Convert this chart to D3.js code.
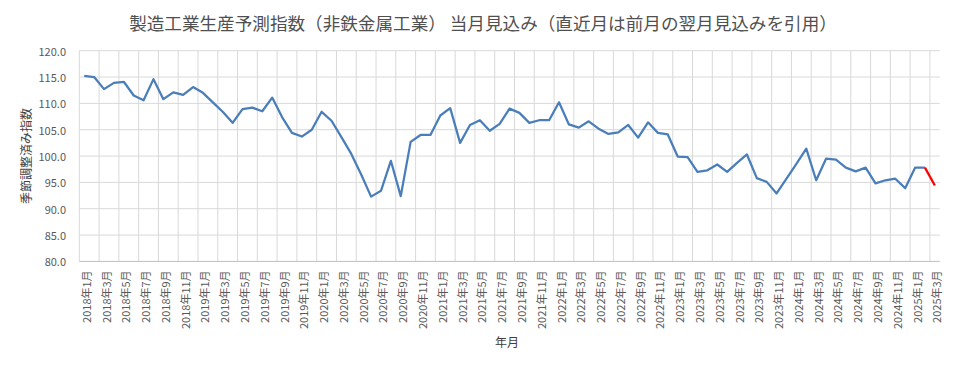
<!DOCTYPE html>
<html><head><meta charset="utf-8">
<script src="https://cdn.jsdelivr.net/npm/d3@7"></script>
<style>
html,body{margin:0;padding:0;background:#fff;}
svg{display:block;}
text{font-family:"Noto Sans CJK JP","Noto Sans",sans-serif;}
</style></head>
<body>
<svg id="chart" width="954" height="368"></svg>
<script>
const title = "製造工業生産予測指数（非鉄金属工業） 当月見込み（直近月は前月の翌月見込みを引用）";
const yTitle = "季節調整済み指数";
const xTitle = "年月";
const years = [2018,2019,2020,2021,2022,2023,2024,2025];
const monthsPerYear = [12,12,12,12,12,12,12,3];
const yTicks = [80,85,90,95,100,105,110,115,120];
const values = [
 115.2,115.0,112.7,113.9,114.1,111.5,110.6,114.6,110.8,112.1,111.6,113.1,
 112.0,110.2,108.4,106.3,108.9,109.2,108.5,111.1,107.4,104.4,103.7,105.0,
 108.4,106.7,103.6,100.4,96.5,92.3,93.4,99.1,92.4,102.7,104.0,104.0,
 107.7,109.1,102.5,105.9,106.8,104.8,106.1,109.0,108.2,106.3,106.8,106.8,
 110.2,106.0,105.4,106.6,105.2,104.2,104.5,105.9,103.5,106.4,104.4,104.1,
 99.9,99.8,97.0,97.3,98.4,97.0,98.7,100.3,95.8,95.1,92.9,95.7,
 98.5,101.4,95.4,99.5,99.3,97.8,97.1,97.8,94.8,95.4,95.7,93.9,
 97.8,97.8,94.4
];
const categories = [];
years.forEach((y,i)=>{ for(let m=1;m<=monthsPerYear[i];m++) categories.push(y+"年"+m+"月"); });
const tickLabels = categories.filter((d,i)=>i%2===0);

const svg = d3.select("#chart");
const L=79.3, R=939.8, T=50.7, B=261.4;
const x = d3.scaleBand().domain(categories).range([L,R]).padding(0);
const y = d3.scaleLinear().domain([80,120]).range([B,T]);
const grid = "#d9d9d9";

svg.append("g").selectAll("line").data(yTicks.filter(v=>v>80)).join("line")
  .attr("x1",L).attr("x2",R).attr("y1",d=>y(d)).attr("y2",d=>y(d))
  .attr("stroke",grid).attr("stroke-width",1);
const bounds = d3.range(0,categories.length,2);
svg.append("g").selectAll("line").data(bounds).join("line")
  .attr("x1",d=>L+d*x.step()).attr("x2",d=>L+d*x.step())
  .attr("y1",T).attr("y2",B).attr("stroke",grid).attr("stroke-width",1);
svg.append("line").attr("x1",L).attr("x2",R).attr("y1",B).attr("y2",B)
  .attr("stroke","#bfbfbf").attr("stroke-width",1);

svg.append("g").selectAll("text").data(yTicks).join("text")
  .attr("x",66).attr("y",d=>y(d)).attr("text-anchor","end")
  .attr("dominant-baseline","central").attr("font-size",11).attr("fill","#595959")
  .text(d=>d.toFixed(1));

svg.append("g").selectAll("text").data(tickLabels).join("text")
  .attr("transform",d=>`translate(${x(d)+x.bandwidth()/2+1.5},${B+9}) rotate(-90)`)
  .attr("text-anchor","end").attr("dominant-baseline","central")
  .attr("font-size",11).attr("fill","#595959").text(d=>d);

svg.append("text").attr("x",483).attr("y",22).attr("text-anchor","middle")
  .attr("dominant-baseline","central").attr("font-size",17.6).attr("fill","#505050").text(title);
svg.append("text").attr("transform",`translate(25,156) rotate(-90)`).attr("text-anchor","middle")
  .attr("dominant-baseline","central").attr("font-size",12).attr("fill","#404040").text(yTitle);
svg.append("text").attr("x",507).attr("y",341).attr("text-anchor","middle")
  .attr("dominant-baseline","central").attr("font-size",12).attr("fill","#404040").text(xTitle);

const cx = i => x(categories[i]) + x.bandwidth()/2;
const line = d3.line().x(d=>cx(d.i)).y(d=>y(d.v));
const pts = values.map((v,i)=>({i,v}));
svg.append("path").datum(pts.slice(0,values.length-1)).attr("d",line)
  .attr("fill","none").attr("stroke","#4a7ebb").attr("stroke-width",2.25)
  .attr("stroke-linejoin","round");
svg.append("path").datum(pts.slice(values.length-2)).attr("d",line)
  .attr("fill","none").attr("stroke","#ff0000").attr("stroke-width",2.25);
</script>
</body></html>
